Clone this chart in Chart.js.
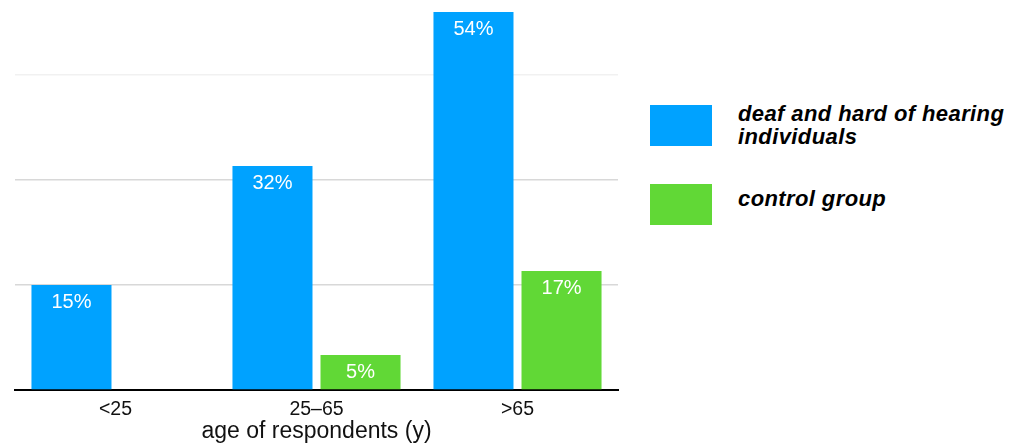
<!DOCTYPE html>
<html>
<head>
<meta charset="utf-8">
<script src="https://cdn.jsdelivr.net/npm/chart.js@4.4.1/dist/chart.umd.min.js"></script>
<style>
  html, body { margin: 0; padding: 0; background: #fff; }
  body { width: 1026px; height: 446px; position: relative; overflow: hidden; font-family: "Liberation Sans", Arial, Helvetica, sans-serif; }
  #wrap { position: absolute; left: 0; top: 0; width: 630px; height: 446px; }
  .sw { position: absolute; left: 650px; width: 62px; height: 41px; }
  .lbl { position: absolute; left: 738px; font-size: 22px; line-height: 23px; font-weight: bold; font-style: italic; letter-spacing: 0.4px; color: #000; white-space: nowrap; }
</style>
</head>
<body>
<div id="wrap"><canvas id="chart"></canvas></div>
<div id="legend"></div>
<script>
const categories = ['<25', '25–65', '>65'];
const seriesNames = [['deaf and hard of hearing', 'individuals'], ['control group']];
const deafValues = [15, 32, 54];
const controlValues = [null, 5, 17];
const gridTicks = [15, 30, 45];

const C_BLUE = '#00A2FF';
const C_GREEN = '#61D836';
const TEXT = '#111';

// white value labels inside the top of each bar
const barLabels = {
  id: 'barLabels',
  afterDatasetsDraw(chart) {
    const ctx = chart.ctx;
    ctx.save();
    ctx.fillStyle = '#fff';
    ctx.font = '20px "Liberation Sans", Arial, sans-serif';
    ctx.textAlign = 'center';
    ctx.textBaseline = 'alphabetic';
    chart.data.datasets.forEach((ds, i) => {
      chart.getDatasetMeta(i).data.forEach((bar, j) => {
        const v = ds.data[j];
        if (v == null) return;
        ctx.fillText(v + '%', bar.x, bar.y + 22.5);
      });
    });
    ctx.restore();
  }
};

new Chart(document.getElementById('chart'), {
  type: 'bar',
  data: {
    labels: categories,
    datasets: [
      { label: seriesNames[0].join(' '), data: deafValues, backgroundColor: C_BLUE, barPercentage: 0.909, categoryPercentage: 0.876 },
      { label: seriesNames[1].join(' '), data: controlValues, backgroundColor: C_GREEN, barPercentage: 0.909, categoryPercentage: 0.876 }
    ]
  },
  options: {
    responsive: true,
    maintainAspectRatio: false,
    animation: false,
    layout: { padding: { left: 15, right: 12, top: 5, bottom: 0 } },
    plugins: { legend: { display: false }, tooltip: { enabled: false } },
    scales: {
      x: {
        grid: { display: false, drawTicks: false },
        border: { display: true, color: '#000', width: 2 },
        ticks: { color: TEXT, padding: 8, font: { family: "'Liberation Sans', Arial, sans-serif", size: 19.5 } },
        title: { display: true, text: 'age of respondents (y)', color: TEXT, padding: { top: 0, bottom: 3 }, font: { family: "'Liberation Sans', Arial, sans-serif", size: 23, lineHeight: 1 } },
        afterFit: (s) => { s.height = 56; }
      },
      y: {
        min: 0,
        max: 55,
        border: { display: false },
        ticks: { display: false, stepSize: 15 },
        grid: {
          drawTicks: false,
          lineWidth: 1.5,
          color: (c) => {
            const v = c.tick && c.tick.value;
            if (!gridTicks.includes(v)) return 'rgba(0,0,0,0)';
            return v === gridTicks[gridTicks.length - 1] ? '#f1f1f1' : '#d8d8d8';
          }
        }
      }
    }
  },
  plugins: [barLabels]
});

// legend beside the plot
const legend = document.getElementById('legend');
const swTops = [105, 184];
const txtTops = [102, 187];
const colors = [C_BLUE, C_GREEN];
legend.innerHTML = seriesNames.map((lines, i) => `
  <div class="sw" style="top:${swTops[i]}px;background:${colors[i]}"></div>
  <div class="lbl" style="top:${txtTops[i]}px">${lines.join('<br>')}</div>
`).join('');
</script>
</body>
</html>
